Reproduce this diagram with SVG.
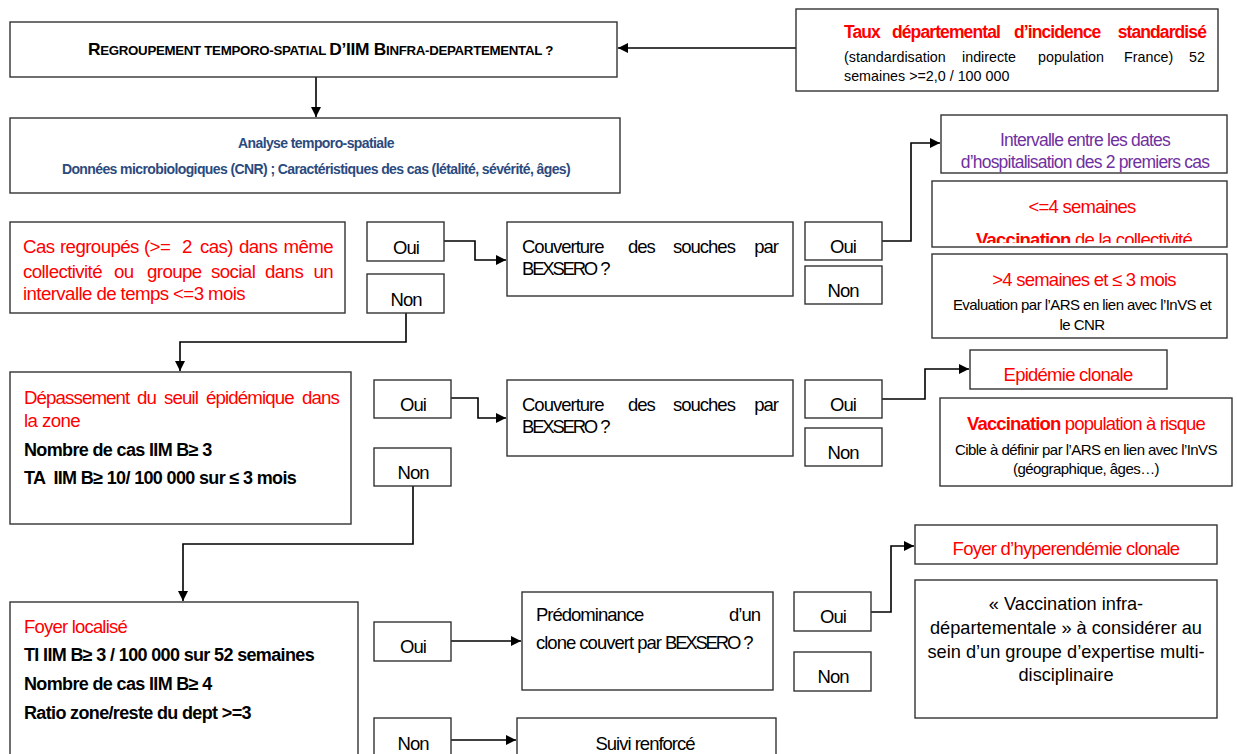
<svg xmlns="http://www.w3.org/2000/svg" width="1237" height="754" viewBox="0 0 1237 754">
<defs>
<style>
.box{fill:#fff;stroke:#333;stroke-width:1.4}
.con{fill:none;stroke:#000;stroke-width:1.6}
text{font-family:"Liberation Sans",Arial,sans-serif;fill:#000}
.r{fill:#ff0000}
.b{font-weight:bold}
.c{text-anchor:middle}
.e{text-anchor:end}
.m{font-size:18.5px;letter-spacing:-1px}
.lr{font-size:18.7px;letter-spacing:-0.6px;fill:#ff0000}
.bb{font-size:18px;font-weight:bold;letter-spacing:-0.65px}
.sm{font-size:15px;letter-spacing:-0.55px}
.vi{font-size:18.2px;letter-spacing:0}
.tr{font-size:18.5px;letter-spacing:-0.75px;fill:#ff0000}
.pu{font-size:17.5px;letter-spacing:-0.8px;fill:#7030a0}
.ts{font-size:14.3px;letter-spacing:0}
.tb{font-size:17.5px;font-weight:bold;letter-spacing:-0.9px;fill:#ff0000}
.blue{font-size:14px;font-weight:bold;letter-spacing:-0.6px;fill:#2b4a7e}
.bx{letter-spacing:-2.2px}
</style>
<marker id="ah" viewBox="0 0 10 10" refX="10" refY="5" markerWidth="10" markerHeight="10" markerUnits="userSpaceOnUse" orient="auto">
<path d="M0,0 L10,5 L0,10 z" fill="#000"/>
</marker>
<clipPath id="clipVac"><rect x="932" y="181" width="295" height="62"/></clipPath>
</defs>
<rect width="1237" height="754" fill="#fff"/>

<g id="connectors">
<line class="con" x1="796" y1="48" x2="618" y2="48" marker-end="url(#ah)"/>
<line class="con" x1="316" y1="77" x2="316" y2="117" marker-end="url(#ah)"/>
<polyline class="con" points="444,241 475,241 475,260 506,260" marker-end="url(#ah)"/>
<polyline class="con" points="882,241 911,241 911,143 940,143" marker-end="url(#ah)"/>
<polyline class="con" points="406,313 406,342 180,342 180,371" marker-end="url(#ah)"/>
<polyline class="con" points="451,398 478,398 478,418 506,418" marker-end="url(#ah)"/>
<polyline class="con" points="882,399 925,399 925,369 969,369" marker-end="url(#ah)"/>
<polyline class="con" points="413,486 413,544 183,544 183,601" marker-end="url(#ah)"/>
<line class="con" x1="451" y1="641" x2="521" y2="641" marker-end="url(#ah)"/>
<polyline class="con" points="871,612 891,612 891,546 914,546" marker-end="url(#ah)"/>
<line class="con" x1="451" y1="740" x2="516" y2="740" marker-end="url(#ah)"/>
</g>

<g id="title">
<rect class="box" x="10" y="22" width="607" height="55"/>
<text x="88" y="55" textLength="465" lengthAdjust="spacingAndGlyphs" style="font-size:17px;font-weight:bold;letter-spacing:-0.3px"><tspan>R</tspan><tspan style="font-size:13px">EGROUPEMENT TEMPORO-SPATIAL </tspan><tspan>D’IIM B</tspan><tspan style="font-size:13px">INFRA-DEPARTEMENTAL ?</tspan></text>
</g>

<g id="taux">
<rect class="box" x="796" y="9" width="422" height="82"/>
<text class="tb" y="38"><tspan x="844">Taux</tspan><tspan x="892">départemental</tspan><tspan x="1014">d’incidence</tspan></text>
<text class="tb e" x="1206" y="38">standardisé</text>
<text class="ts" y="62"><tspan x="844">(standardisation</tspan><tspan x="962">indirecte</tspan><tspan x="1038">population</tspan><tspan x="1124">France)</tspan></text>
<text class="ts e" x="1205" y="62">52</text>
<text class="ts" x="844" y="81">semaines &gt;=2,0 / 100 000</text>
</g>

<g id="analyse">
<rect class="box" x="10" y="118" width="610" height="75"/>
<text class="blue c" x="316" y="148">Analyse temporo-spatiale</text>
<text class="blue c" x="316" y="174">Données microbiologiques (CNR) ; Caractéristiques des cas (létalité, sévérité, âges)</text>
</g>

<g id="cas-regroupes">
<rect class="box" x="10" y="222" width="335" height="91"/>
<text class="lr" y="253"><tspan x="23">Cas</tspan><tspan x="60">regroupés</tspan><tspan x="144">(&gt;=</tspan><tspan x="182">2</tspan><tspan x="200">cas)</tspan><tspan x="239">dans</tspan></text>
<text class="lr e" x="333" y="253">même</text>
<text class="lr" y="278"><tspan x="23">collectivité</tspan><tspan x="114">ou</tspan><tspan x="147">groupe</tspan><tspan x="211">social</tspan><tspan x="265">dans</tspan></text>
<text class="lr e" x="333" y="278">un</text>
<text class="lr" x="23" y="300">intervalle de temps &lt;=3 mois</text>
</g>

<g id="oui1">
<rect class="box" x="367" y="222" width="77" height="39"/>
<text class="m c" x="406" y="254">Oui</text>
</g>
<g id="non1">
<rect class="box" x="367" y="274" width="77" height="39"/>
<text class="m c" x="406" y="306">Non</text>
</g>

<g id="couverture1">
<rect class="box" x="507" y="222" width="286" height="74"/>
<text class="m" y="253"><tspan x="522">Couverture</tspan><tspan x="628">des</tspan><tspan x="673">souches</tspan></text>
<text class="m e" x="778" y="253">par</text>
<text class="m" x="522" y="275"><tspan class="bx">BEXSERO</tspan> ?</text>
</g>

<g id="oui1b">
<rect class="box" x="805" y="222" width="77" height="38"/>
<text class="m c" x="843" y="253">Oui</text>
</g>
<g id="non1b">
<rect class="box" x="805" y="266" width="77" height="38"/>
<text class="m c" x="843" y="297">Non</text>
</g>

<g id="intervalle">
<rect class="box" x="941" y="115" width="286" height="58"/>
<text class="pu c" x="1085" y="146">Intervalle entre les dates</text>
<text class="pu c" x="1085" y="168">d’hospitalisation des 2 premiers cas</text>
</g>

<g id="inf4">
<rect class="box" x="932" y="181" width="295" height="66"/>
<text class="tr c" x="1082" y="213">&lt;=4 semaines</text>
<g clip-path="url(#clipVac)">
<text class="tr c" x="1084" y="246"><tspan class="b">Vaccination</tspan> de la collectivité</text>
</g>
</g>

<g id="sup4">
<rect class="box" x="932" y="254" width="295" height="84"/>
<text class="tr c" x="1084" y="286">&gt;4 semaines et ≤ 3 mois</text>
<text class="sm c" x="1082" y="310">Evaluation par l’ARS en lien avec l’InVS et</text>
<text class="sm c" x="1082" y="330">le CNR</text>
</g>

<g id="depassement">
<rect class="box" x="10" y="372" width="341" height="152"/>
<text class="lr" y="404" style="letter-spacing:-0.9px"><tspan x="24">Dépassement</tspan><tspan x="137">du</tspan><tspan x="164">seuil</tspan><tspan x="206">épidémique</tspan></text>
<text class="lr e" x="339" y="404" style="letter-spacing:-0.9px">dans</text>
<text class="lr" x="24" y="427">la zone</text>
<text class="bb" x="24" y="456">Nombre de cas IIM B≥ 3</text>
<text class="bb" x="24" y="484" xml:space="preserve">TA  IIM B≥ 10/ 100 000 sur ≤ 3 mois</text>
</g>

<g id="oui2">
<rect class="box" x="374" y="380" width="77" height="38"/>
<text class="m c" x="413" y="411">Oui</text>
</g>
<g id="non2">
<rect class="box" x="374" y="448" width="77" height="38"/>
<text class="m c" x="413" y="479">Non</text>
</g>

<g id="couverture2">
<rect class="box" x="507" y="380" width="286" height="76"/>
<text class="m" y="411"><tspan x="522">Couverture</tspan><tspan x="628">des</tspan><tspan x="673">souches</tspan></text>
<text class="m e" x="778" y="411">par</text>
<text class="m" x="522" y="433"><tspan class="bx">BEXSERO</tspan> ?</text>
</g>

<g id="oui2b">
<rect class="box" x="805" y="380" width="77" height="38"/>
<text class="m c" x="843" y="411">Oui</text>
</g>
<g id="non2b">
<rect class="box" x="805" y="428" width="77" height="38"/>
<text class="m c" x="843" y="459">Non</text>
</g>

<g id="epidemie">
<rect class="box" x="970" y="350" width="197" height="39"/>
<text class="tr c" x="1068" y="381">Epidémie clonale</text>
</g>

<g id="vacc-pop">
<rect class="box" x="940" y="398" width="292" height="88"/>
<text class="tr c" x="1086" y="430" style="letter-spacing:-0.85px"><tspan class="b">Vaccination</tspan> population à risque</text>
<text class="sm c" x="1086" y="455">Cible à définir par l’ARS en lien avec l’InVS</text>
<text class="sm c" x="1086" y="474">(géographique, âges…)</text>
</g>

<g id="foyer">
<rect class="box" x="10" y="602" width="348" height="160"/>
<text class="tr" x="24" y="633" style="letter-spacing:-0.8px">Foyer localisé</text>
<text class="bb" x="24" y="661">TI IIM B≥ 3 / 100 000 sur 52 semaines</text>
<text class="bb" x="24" y="690">Nombre de cas IIM B≥ 4</text>
<text class="bb" x="24" y="719">Ratio zone/reste du dept &gt;=3</text>
</g>

<g id="oui3">
<rect class="box" x="374" y="622" width="77" height="39"/>
<text class="m c" x="413" y="653">Oui</text>
</g>
<g id="non3">
<rect class="box" x="374" y="718" width="77" height="40"/>
<text class="m c" x="413" y="750">Non</text>
</g>

<g id="predominance">
<rect class="box" x="522" y="592" width="251" height="98"/>
<text class="m" x="536" y="621">Prédominance</text>
<text class="m e" x="760" y="621">d’un</text>
<text class="m" x="536" y="649">clone couvert par <tspan class="bx">BEXSERO</tspan> ?</text>
</g>

<g id="oui3b">
<rect class="box" x="794" y="592" width="77" height="39"/>
<text class="m c" x="833" y="623">Oui</text>
</g>
<g id="non3b">
<rect class="box" x="794" y="652" width="77" height="39"/>
<text class="m c" x="833" y="683">Non</text>
</g>

<g id="hyperendemie">
<rect class="box" x="915" y="525" width="302" height="39"/>
<text class="tr c" x="1066" y="555">Foyer d’hyperendémie clonale</text>
</g>

<g id="vacc-infra">
<rect class="box" x="915" y="580" width="302" height="138"/>
<text class="vi c" x="1066" y="610">« Vaccination infra-</text>
<text class="vi c" x="1066" y="634">départementale » à considérer au</text>
<text class="vi c" x="1066" y="658">sein d’un groupe d’expertise multi-</text>
<text class="vi c" x="1066" y="681">disciplinaire</text>
</g>

<g id="suivi">
<rect class="box" x="517" y="718" width="259" height="42"/>
<text class="m c" x="645" y="750">Suivi renforcé</text>
</g>
</svg>
